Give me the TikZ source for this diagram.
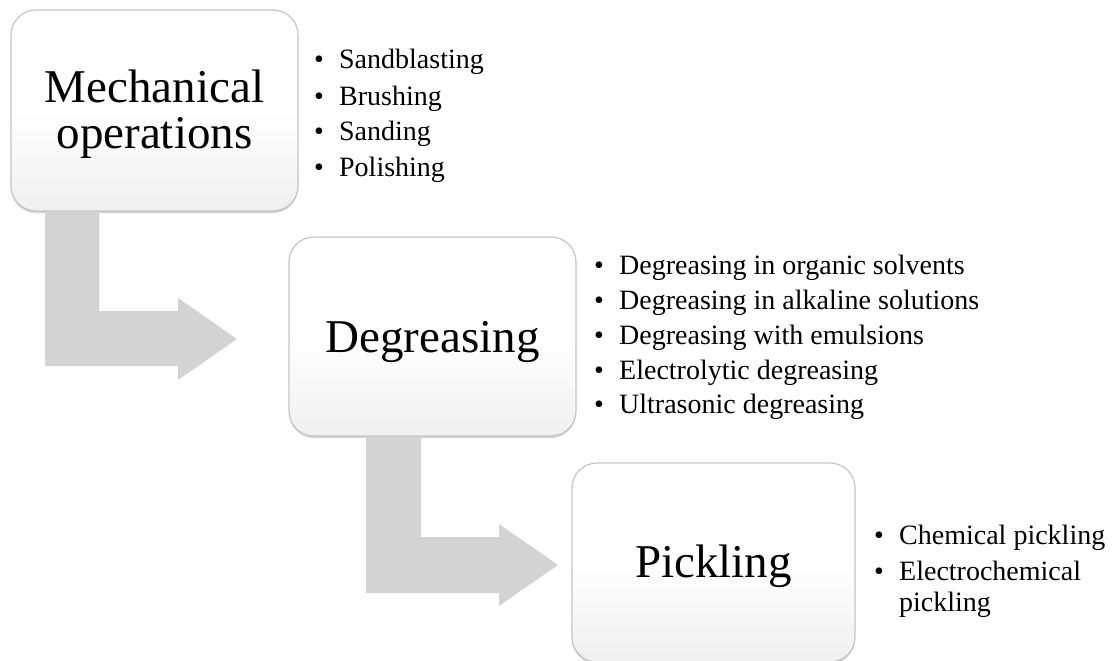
\documentclass[tikz,border=0pt]{standalone}
\usepackage{fontspec}
\setmainfont{Liberation Serif}
\usetikzlibrary{calc}
\definecolor{arrowgray}{HTML}{D3D3D3}
\definecolor{boxedge}{HTML}{C6C6C6}
\definecolor{boxshadow}{HTML}{D2D2D2}
\definecolor{boxbottom}{HTML}{F0F0F0}
\tikzset{
  stagebox/.style={rounded corners=25pt, draw=boxedge, line width=1.2pt,
    top color=white, bottom color=boxbottom, middle color=white, inner sep=0pt},
  stageshadow/.style={rounded corners=25pt, fill=boxshadow, draw=none},
  stagetext/.style={anchor=base, inner sep=0pt, font=\fontsize{47}{46}\selectfont},
  blockarrow/.style={fill=arrowgray, draw=none},
  item/.style={anchor=base west, inner sep=0pt, font=\fontsize{28}{31}\selectfont, align=left}
}
\newcommand{\bul}{\makebox[25pt][l]{\textbullet}}
\begin{document}
\begin{tikzpicture}[x=1pt,y=-1pt]
\useasboundingbox[fill=white] (0,0) rectangle (1116,661);

% block arrows
\draw[blockarrow] (45,200) -- (99,200) -- (99,311) -- (178,311) -- (178,298) -- (237,339)
  -- (178,380) -- (178,366) -- (45,366) -- cycle;
\draw[blockarrow] (366,425) -- (421,425) -- (421,537) -- (499,537) -- (499,524) -- (558,565)
  -- (499,606) -- (499,593) -- (366,593) -- cycle;

% shadows
\fill[stageshadow] (11,12) rectangle (298,213);
\fill[stageshadow] (289,239) rectangle (576,438);
\fill[stageshadow] (572,465) rectangle (855,664);

% stage boxes
\node[stagebox, minimum width=287pt, minimum height=201pt] (mech) at (154.5,110.5) {};
\node[stagebox, minimum width=287pt, minimum height=199pt] (degr) at (432.5,336.5) {};
\node[stagebox, minimum width=283pt, minimum height=199pt] (pick) at (713.5,562.5) {};

\node[stagetext] (mechA) at (154.5,102) {Mechanical};
\node[stagetext] (mechB) at (154.5,148) {operations};
\node[stagetext] (degrT) at (432.5,352) {Degreasing};
\node[stagetext] (pickT) at (713.5,577) {Pickling};

% lists
\node[item] (m1) at (314,69) {\bul Sandblasting};
\node[item] (m2) at (314,105) {\bul Brushing};
\node[item] (m3) at (314,140) {\bul Sanding};
\node[item] (m4) at (314,176) {\bul Polishing};

\node[item] (d1) at (594,274) {\bul Degreasing in organic solvents};
\node[item] (d2) at (594,309) {\bul Degreasing in alkaline solutions};
\node[item] (d3) at (594,344) {\bul Degreasing with emulsions};
\node[item] (d4) at (594,379) {\bul Electrolytic degreasing};
\node[item] (d5) at (594,413) {\bul Ultrasonic degreasing};

\node[item] (p1) at (874,544) {\bul Chemical pickling};
\node[item] (p2) at (874,580) {\bul Electrochemical};
\node[item] (p3) at (874,611) {\hspace*{25pt}pickling};
\end{tikzpicture}
\end{document}
